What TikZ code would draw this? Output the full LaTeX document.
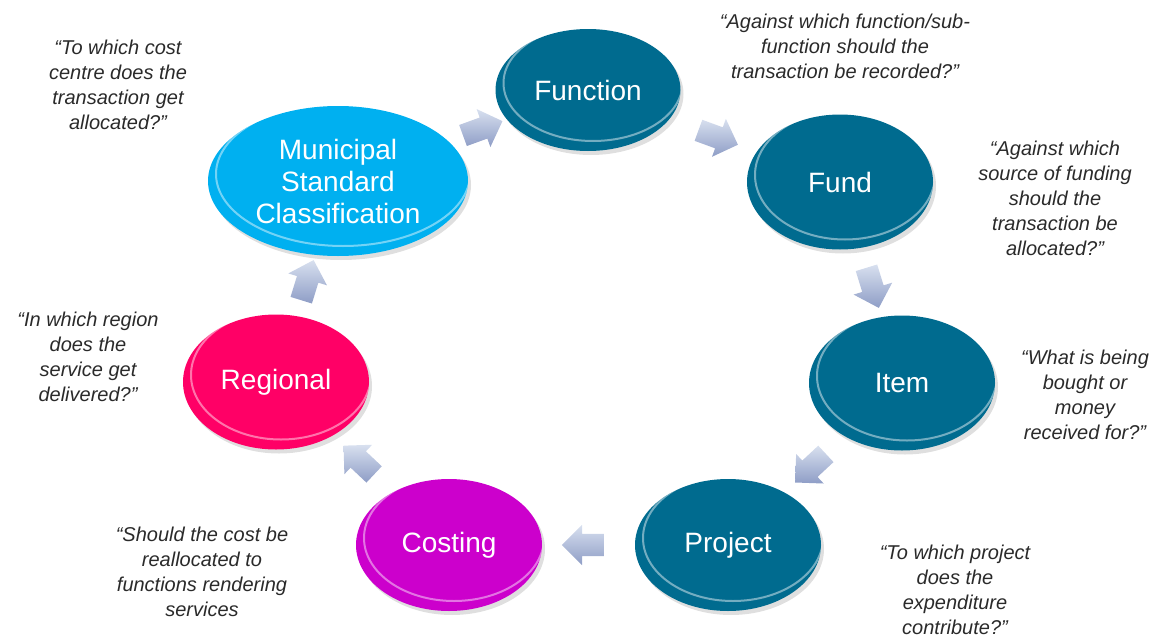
\documentclass[tikz,border=0pt]{standalone}
\usepackage{fontspec}
\setmainfont{Liberation Sans}
\usetikzlibrary{shapes.geometric, shapes.arrows, shadows, calc}

\definecolor{tealblue}{HTML}{006B8F}
\definecolor{skyblue}{HTML}{00B0F0}
\definecolor{pinkred}{HTML}{FF0066}
\definecolor{costmagenta}{HTML}{CC00CC}
\definecolor{arrowlight}{HTML}{D8E0EF}
\definecolor{arrowdark}{HTML}{8E9DC6}
\definecolor{quotegray}{HTML}{2A2A2A}

\tikzset{
  disc/.style={ellipse, draw=none, fill=#1, text=white, inner sep=0pt,
    font=\fontsize{28}{32}\selectfont, align=center,
    drop shadow={opacity=0.25, shadow xshift=3pt, shadow yshift=-4pt},
    path picture={
      \draw[white, opacity=.45, line width=2pt]
        let \p1=(path picture bounding box.south west),
            \p2=(path picture bounding box.north east) in
        ($(\p1)!.5!(\p2)+(5pt,7pt)$) ellipse [x radius={(\x2-\x1)/2-3pt}, y radius={(\y2-\y1)/2-3pt}];
    }},
  question/.style={font=\fontsize{20}{25}\selectfont\itshape, text=quotegray, align=center},
  flowarrow/.style={single arrow, sloped, allow upside down, draw=none,
    minimum height=42pt, minimum width=0pt, inner xsep=0pt, inner ysep=11pt,
    single arrow head extend=9pt, top color=arrowlight, bottom color=arrowdark}
}

\begin{document}
\begin{tikzpicture}[x=1pt, y=-1pt]
    \useasboundingbox (0,0) rectangle (1159,637);

    \node[disc=skyblue, minimum width=260pt, minimum height=150pt] (msc) at (338,181) {Municipal\\Standard\\Classification};
    \node[disc=tealblue, minimum width=185pt, minimum height=122pt] (function) at (588,90) {Function};
    \node[disc=tealblue, minimum width=186pt, minimum height=135pt] (fund) at (840,182) {Fund};
    \node[disc=tealblue, minimum width=186pt, minimum height=135pt] (item) at (902,383) {Item};
    \node[disc=tealblue, minimum width=186pt, minimum height=132pt] (project) at (728,545) {Project};
    \node[disc=costmagenta, minimum width=186pt, minimum height=132pt] (costing) at (449,545) {Costing};
    \node[disc=pinkred, minimum width=186pt, minimum height=135pt] (regional) at (276,382) {Regional};

    \path (msc) -- node[flowarrow] {} (function);
    \path (function) -- node[flowarrow] {} (fund);
    \path (fund) -- node[flowarrow] {} (item);
    \path (item) -- node[flowarrow] {} (project);
    \path (project) -- node[flowarrow] {} (costing);
    \path (costing) -- node[flowarrow] {} (regional);
    \path (regional) -- node[flowarrow] {} (msc);

    \node[question] (qmsc) at (118,85) {“To which cost\\centre does the\\transaction get\\allocated?”};
    \node[question] (qfunction) at (845,46) {“Against which function/sub-\\function should the\\transaction be recorded?”};
    \node[question] (qfund) at (1055,198) {“Against which\\source of funding\\should the\\transaction be\\allocated?”};
    \node[question] (qitem) at (1085,395) {“What is being\\bought or\\money\\received for?”};
    \node[question] (qproject) at (955,590) {“To which project\\does the\\expenditure\\contribute?”};
    \node[question] (qcosting) at (202,572) {“Should the cost be\\reallocated to\\functions rendering\\services};
    \node[question] (qregional) at (88,357) {“In which region\\does the\\service get\\delivered?”};
\end{tikzpicture}
\end{document}
